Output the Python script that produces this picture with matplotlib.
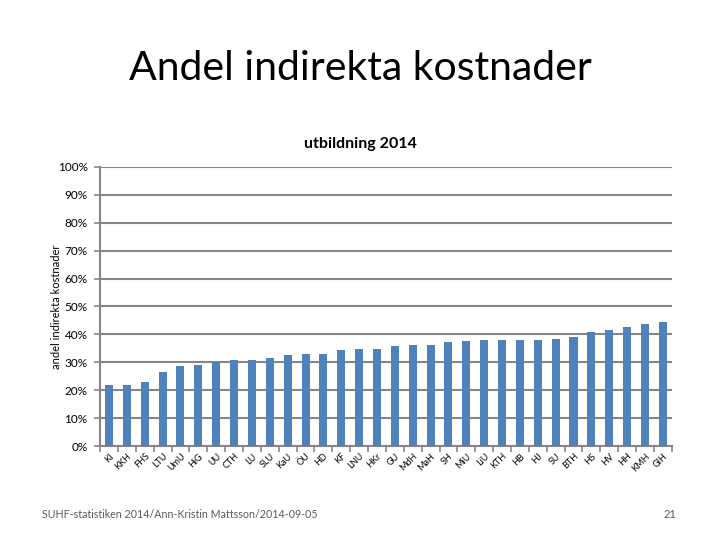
import matplotlib
matplotlib.use('Agg')
import matplotlib.pyplot as plt
import numpy as np

plt.rcParams['font.family'] = ['Lato', 'DejaVu Sans']

# lärosäten and share of indirect costs (education 2014)
schools = ['KI', 'KKH', 'FHS', 'LTU', 'UmU', 'HiG', 'UU', 'CTH', 'LU', 'SLU', 'KaU',
           'ÖU', 'HD', 'KF', 'LNU', 'HKr', 'GU', 'MdH', 'MaH', 'SH', 'MiU', 'LiU',
           'KTH', 'HB', 'HJ', 'SU', 'BTH', 'HS', 'HV', 'HH', 'KMH', 'GIH']
shares = [21.7, 21.7, 23.1, 26.4, 28.5, 29.2, 30.0, 30.7, 30.7, 31.4, 32.5,
          32.9, 32.9, 34.3, 34.7, 34.7, 35.7, 36.1, 36.1, 37.2, 37.5, 37.9,
          37.9, 37.9, 37.9, 38.3, 39.0, 40.8, 41.5, 42.6, 43.7, 44.4]
yticks = np.arange(0, 101, 10)

grey = '#868686'

fig = plt.figure(figsize=(7.2, 5.4), dpi=100)
ax = fig.add_axes([0.139, 0.174, 0.794, 0.517])

x = np.arange(len(schools))
ax.bar(x, shares, width=0.45, color='#4F81BD', zorder=3)

ax.set_xlim(-0.5, len(schools) - 0.5)
ax.set_ylim(0, 100)
ax.set_yticks(yticks)
ax.set_yticklabels(['%d%%' % v for v in yticks], fontsize=8.5)
ax.yaxis.grid(True, color=grey, linewidth=1.5, zorder=0)
ax.tick_params(axis='y', length=4, color=grey, width=1.2, pad=5)

ax.set_xticks(x)
ax.set_xticklabels(schools, rotation=45, ha='right', va='top',
                   rotation_mode='anchor', fontsize=6.5)
ax.set_xticks(np.arange(-0.5, len(schools), 1), minor=True)
ax.tick_params(axis='x', which='major', length=0, pad=4)
ax.tick_params(axis='x', which='minor', length=4, color=grey, width=1.2)

for side in ['top', 'right']:
    ax.spines[side].set_visible(False)
for side in ['left', 'bottom']:
    ax.spines[side].set_color(grey)
    ax.spines[side].set_linewidth(1.5)

ax.set_ylabel('andel indirekta kostnader', fontsize=8)
ax.yaxis.set_label_coords(-0.066, 0.5)

fig.text(0.5, 0.873, 'Andel indirekta kostnader', ha='center', va='center', fontsize=29.5)
fig.text(0.5, 0.733, 'utbildning 2014', ha='center', va='center',
         fontsize=11.5, fontweight='bold')
fig.text(0.058, 0.047, 'SUHF-statistiken 2014/Ann-Kristin Mattsson/2014-09-05',
         ha='left', va='center', fontsize=7.7, color='#595959')
fig.text(0.93, 0.047, '21', ha='center', va='center', fontsize=8, color='#595959')

plt.savefig('out.png', dpi=100)
